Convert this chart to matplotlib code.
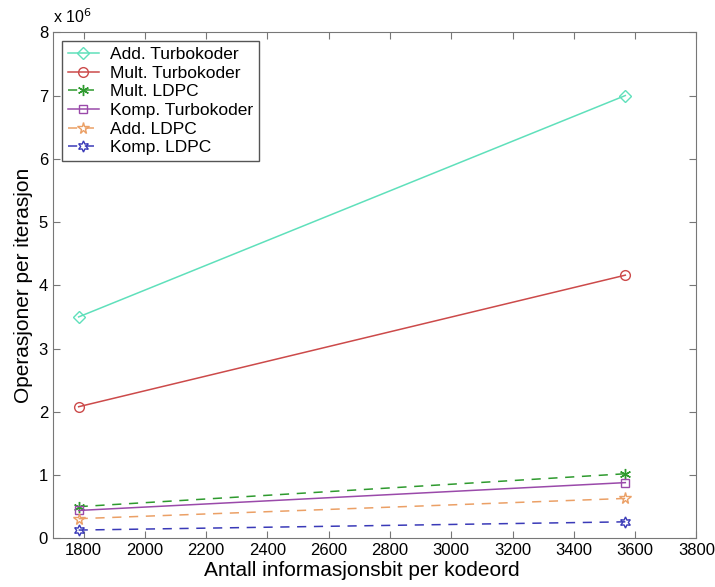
import numpy as np
import matplotlib
matplotlib.use('Agg')
import matplotlib.pyplot as plt

plt.rcParams['font.family'] = ['Liberation Sans', 'DejaVu Sans']

#--- data: operations per iteration vs information bits per codeword
bits       = [1784, 3568]
series     = ['Add. Turbokoder', 'Mult. Turbokoder', 'Mult. LDPC',
              'Komp. Turbokoder', 'Add. LDPC', 'Komp. LDPC']
values     = [[3.50e6, 7.00e6],
              [2.08e6, 4.16e6],
              [0.50e6, 1.02e6],
              [0.44e6, 0.88e6],
              [0.31e6, 0.63e6],
              [0.13e6, 0.26e6]]

#--- styles (asterisk, pentagram and hexagram as in the original toolbox)
colors     = ['#5fe0bb', '#cc4a4a', '#2e9a2e', '#9a4aaa', '#eba066', '#3a3ab8']
markers    = ['D', 'o', (6, 2, 0), 's', '*', (6, 1, 0)]
styles     = ['-', '-', '--', '-', '--', '--']
msizes     = [6.5, 7, 8, 5.5, 8.5, 8]

fig = plt.figure(figsize=(7.15, 5.87), dpi=100)
ax  = fig.add_axes([0.074, 0.083, 0.900, 0.862])

for n in range(len(series)):
    ax.plot(bits, values[n], linestyle=styles[n], color=colors[n],
            marker=markers[n], markersize=msizes[n], markerfacecolor='none',
            markeredgecolor=colors[n], markeredgewidth=1.0, linewidth=1.1,
            dashes=(6, 5) if styles[n] == '--' else (None, None),
            label=series[n])

ax.set_xlim(1700, 3800)
ax.set_ylim(0, 8e6)
ax.set_xticks(np.arange(1800, 3801, 200))
ax.set_yticks(np.arange(0, 8.01e6, 1e6))
ax.set_yticklabels([str(i) for i in range(9)])
ax.tick_params(direction='in', top=True, right=True, length=5,
               labelsize=12, color='#777777')
for sp in ax.spines.values():
    sp.set_color('#777777')
ax.text(0.0, 1.012, r'x 10$^6$', transform=ax.transAxes, fontsize=11.5,
        ha='left', va='bottom')

ax.set_xlabel('Antall informasjonsbit per kodeord', fontsize=15, labelpad=1)
ax.xaxis.set_label_coords(0.48, -0.045)
ax.set_ylabel('Operasjoner per iterasjon', fontsize=15, labelpad=4)

leg = ax.legend(loc='upper left', fontsize=12.5, handlelength=1.8,
                fancybox=False, framealpha=1, borderaxespad=0.5,
                labelspacing=0.2, handletextpad=0.65, borderpad=0.35)
leg.get_frame().set_edgecolor('#555555')
leg.get_frame().set_linewidth(1.0)

plt.savefig('out.png', dpi=100)
